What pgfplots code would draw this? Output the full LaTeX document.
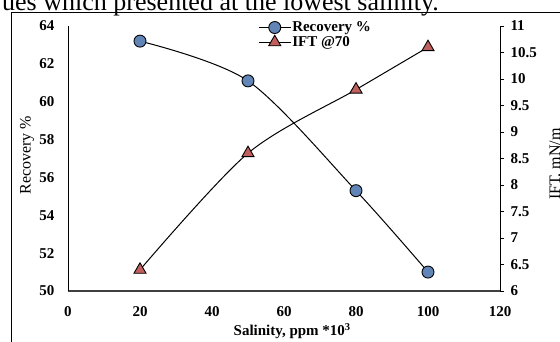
\documentclass[border=0pt]{standalone}
\usepackage{pgfplots}
\pgfplotsset{compat=1.18}
\usepackage{fontspec}
\setmainfont{Liberation Serif}
\definecolor{recblue}{RGB}{98,133,184}
\definecolor{iftred}{RGB}{192,96,94}
\definecolor{axgray}{RGB}{64,64,64}
\pgfplotsset{
  common/.style={
    at={(68pt,51pt)}, anchor=south west,
    width=432pt, height=265pt, scale only axis,
    xmin=0, xmax=120,
    /pgf/number format/assume math mode=true,
    tick label style={font=\bfseries\fontsize{15}{15}\selectfont},
    legend image code/.code={\draw[mark repeat=2,mark phase=2,##1] plot coordinates {(0pt,0pt) (16pt,0pt) (32pt,0pt)};},
  },
  recstyle/.style={black, line width=1pt, smooth, mark=*, mark size=6pt, mark options={fill=recblue, draw=black, line width=0.9pt, solid}},
  iftstyle/.style={black, line width=1pt, smooth, mark=triangle*, mark size=7pt, mark options={fill=iftred, draw=black, line width=0.9pt, solid}},
}
\begin{document}
\begin{tikzpicture}
\useasboundingbox (0pt,0pt) rectangle (560pt,342pt);
\clip (0pt,0pt) rectangle (560pt,342pt);
\draw[line width=1pt] (11pt,-10pt) -- (11pt,329pt) -- (600pt,329pt);
\node[anchor=base west, inner sep=0pt, font=\fontsize{26}{26}\selectfont] at (2pt,331pt) {ues which presented at the lowest salinity.};

\begin{axis}[common,
  ymin=50, ymax=64,
  xtick={0,20,...,120}, ytick={50,52,...,64},
  axis x line*=bottom, axis y line*=left,
  major tick length=0pt,
  x axis line style={draw=axgray, line width=1.6pt},
  y axis line style={draw=black, line width=0.9pt},
  yticklabel style={xshift=-10pt},
  xticklabel style={yshift=-12pt},
  xlabel={\bfseries\fontsize{15}{15}\selectfont Salinity, ppm *10\textsuperscript{3}},
  xlabel style={at={(axis description cs:0.519,-0.151)}, anchor=center},
  ylabel={\fontsize{16}{16}\selectfont Recovery \%},
  ylabel style={at={(axis description cs:-0.095,0.513)}, anchor=center, rotate=0},
]
\addplot[recstyle] coordinates {(20,63.2) (50,61.1) (80,55.3) (100,51.0)};
\end{axis}

\begin{axis}[common,
  ymin=6, ymax=11,
  ytick={6,6.5,...,11},
  axis x line=none, axis y line*=right,
  y axis line style={draw=black, line width=0.9pt},
  tick align=outside, major tick length=4pt,
  ytick style={black, line width=0.8pt},
  yticklabel style={xshift=3pt},
  ylabel={\fontsize{16}{16}\selectfont IFT, mN/m},
  ylabel style={at={(axis description cs:1.13,0.479)}, anchor=center, rotate=0},
  legend style={at={(0.433,1.028)}, anchor=north west, draw=none, fill=none,
    font=\bfseries\fontsize{15}{15}\selectfont, row sep=1pt,
    nodes={inner sep=1pt}},
  legend cell align=left,
]
\addlegendimage{recstyle}
\addlegendentry{Recovery \%}
\addplot[iftstyle] coordinates {(20,6.4) (50,8.6) (80,9.8) (100,10.6)};
\addlegendentry{IFT @70}
\end{axis}
\end{tikzpicture}
\end{document}
